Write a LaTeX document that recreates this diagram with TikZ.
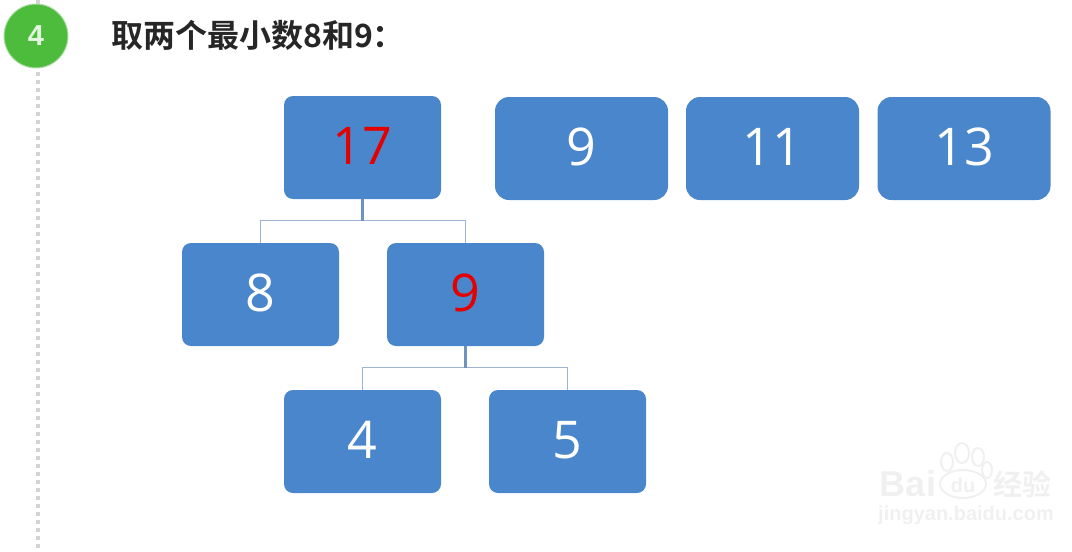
\documentclass[tikz,border=0pt]{standalone}
\usepackage{fontspec}
\setmainfont{Open Sans}
\newfontfamily\titlefont{Noto Sans CJK SC Bold}
\newfontfamily\stepfont{Liberation Sans}[BoldFont=Liberation Sans Bold]
\usetikzlibrary{calc}
\definecolor{boxblue}{HTML}{4A86CB}
\definecolor{linkblue}{HTML}{9DB4D2}
\definecolor{stemblue}{HTML}{6F93C0}
\definecolor{stepgreen}{HTML}{4DBB3C}
\definecolor{markgray}{HTML}{F0F0F0}
\tikzset{
    box/.style={fill=boxblue, text=white, font=\fontsize{52}{52}\selectfont, inner sep=0pt, text depth=4pt},
    leaf/.style={box, minimum width=157pt, minimum height=103pt, rounded corners=9pt},
    root/.style={box, minimum width=173pt, minimum height=103pt, rounded corners=14pt},
    link/.style={draw=linkblue, line width=1.8pt},
    stem/.style={draw=stemblue, line width=2.4pt},
}
\begin{document}
\begin{tikzpicture}[x=1pt, y=-1pt]
    \useasboundingbox (0,0) rectangle (1072,552);
    % step marker
    \draw[draw=black!17, line width=4.5pt, dash pattern=on 4pt off 4pt](38,0)--(38,552);
    \node[circle, fill=stepgreen, draw=stepgreen!45, line width=1pt, minimum size=64pt, inner sep=0pt, text=white!85!stepgreen, font=\stepfont\bfseries\fontsize{29}{29}\selectfont] (step4) at (36,36) {4};
    \node[anchor=west, inner sep=0pt, text=black!85, font=\titlefont\fontsize{32}{32}\selectfont] (title) at (111,35) {取两个最小数8和9：};
    % tree
    \node[leaf, text=red!90!black] (n17) at (362.5,147.5) {17};
    \node[leaf] (n8) at (260.5,294.5) {8};
    \node[leaf, text=red!90!black] (n9) at (465.5,294.5) {9};
    \node[leaf] (n4) at (362.5,441.5) {4};
    \node[leaf] (n5) at (567.5,441.5) {5};
    % remaining numbers
    \node[root] (r9) at (581.5,148.5) {9};
    \node[root] (r11) at (772.5,148.5) {11};
    \node[root] (r13) at (964,148.5) {13};
    % links
    \coordinate (j17) at (362.5,220.5);
    \coordinate (j9) at (465.5,367.5);
    \draw[link](j17)-|(n8.north);
    \draw[link](j17)-|(n9.north);
    \draw[stem](n17.south)--(j17);
    \draw[link](j9)-|(n4.north);
    \draw[link](j9)-|(n5.north);
    \draw[stem](n9.south)--(j9);
    % watermark
    \begin{scope}[draw=markgray, line width=2pt, fill=white]
        \draw (947,462) ellipse (6pt and 9pt);
        \draw (962,453) ellipse (7pt and 10pt);
        \draw (978,457) ellipse (6pt and 9pt);
        \draw (987,470) ellipse (5pt and 8pt);
        \draw (963,484) ellipse (23pt and 14pt);
    \end{scope}
    \node[inner sep=0pt, text=markgray, font=\stepfont\bfseries\fontsize{36}{36}\selectfont] (mark1) at (908,484) {Bai};
    \node[inner sep=0pt, text=markgray, font=\stepfont\bfseries\fontsize{20}{20}\selectfont] (mark2) at (963,485) {du};
    \node[inner sep=0pt, text=markgray, font=\titlefont\fontsize{29}{29}\selectfont] (mark3) at (1022,484) {经验};
    \node[inner sep=0pt, text=markgray, font=\stepfont\bfseries\fontsize{20}{20}\selectfont] (mark4) at (966,515) {jingyan.baidu.com};
\end{tikzpicture}
\end{document}
